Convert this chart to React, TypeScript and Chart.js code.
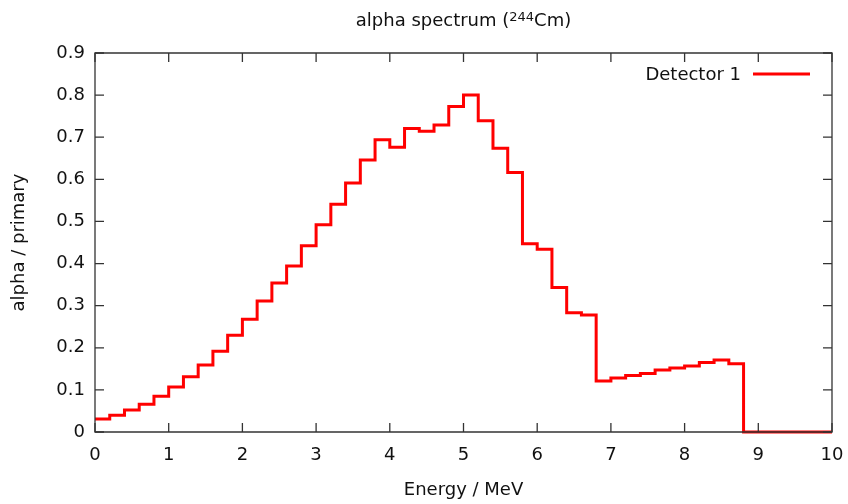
import { useEffect, useRef } from "react";
import { Chart, registerables } from "chart.js";

Chart.register(...registerables);

// Energy bin lower edges (MeV), plus final right edge at 10 MeV
const binEdges = [
  0, 0.2, 0.4, 0.6, 0.8, 1.0, 1.2, 1.4, 1.6, 1.8,
  2.0, 2.2, 2.4, 2.6, 2.8, 3.0, 3.2, 3.4, 3.6, 3.8,
  4.0, 4.2, 4.4, 4.6, 4.8, 5.0, 5.2, 5.4, 5.6, 5.8,
  6.0, 6.2, 6.4, 6.6, 6.8, 7.0, 7.2, 7.4, 7.6, 7.8,
  8.0, 8.2, 8.4, 8.6, 8.8, 9.0, 9.2, 9.4, 9.6, 9.8,
  10.0,
];

// alpha / primary for each bin (last value closes the histogram at 10 MeV)
const detector1 = [
  0.031, 0.040, 0.052, 0.066, 0.085, 0.107, 0.131, 0.159, 0.192, 0.230,
  0.268, 0.311, 0.354, 0.394, 0.442, 0.492, 0.541, 0.591, 0.646, 0.694,
  0.676, 0.721, 0.714, 0.729, 0.773, 0.800, 0.739, 0.674, 0.616, 0.447,
  0.434, 0.343, 0.283, 0.278, 0.121, 0.128, 0.134, 0.139, 0.147, 0.152,
  0.157, 0.165, 0.171, 0.162, 0, 0, 0, 0, 0, 0,
  0,
];

const xTickValues = [0, 1, 2, 3, 4, 5, 6, 7, 8, 9, 10];
const xTickLabels = ["0", "1", "2", "3", "4", "5", "6", "7", "8", "9", "10"];
const yTickValues = [0, 0.1, 0.2, 0.3, 0.4, 0.5, 0.6, 0.7, 0.8, 0.9];
const yTickLabels = ["0", "0.1", "0.2", "0.3", "0.4", "0.5", "0.6", "0.7", "0.8", "0.9"];

const seriesLabel = "Detector 1";
const titleParts = ["alpha spectrum (", "244", "Cm)"]; // middle part is superscript
const xTitle = "Energy / MeV";
const yTitle = "alpha / primary";

const FONT = "DejaVu Sans";
const FS = 18;
const SUP_FS = 13;
const TEXT_COLOR = "#111";
const FRAME_COLOR = "#333";
const LINE_COLOR = "#ff0000";

const framePlugin = {
  id: "gnuplotFrame",
  afterDatasetsDraw(chart: any) {
    const { ctx, chartArea } = chart;
    const { left, right, top, bottom } = chartArea;
    const xs = chart.scales.x;
    const ys = chart.scales.y;
    const tickLen = 9;
    ctx.save();
    ctx.strokeStyle = FRAME_COLOR;
    ctx.lineWidth = 1.3;
    ctx.beginPath();
    ctx.rect(left, top, right - left, bottom - top);
    ctx.stroke();
    ctx.beginPath();
    xTickValues.forEach((v) => {
      const px = xs.getPixelForValue(v);
      ctx.moveTo(px, bottom);
      ctx.lineTo(px, bottom - tickLen);
      ctx.moveTo(px, top);
      ctx.lineTo(px, top + tickLen);
    });
    yTickValues.forEach((v) => {
      const py = ys.getPixelForValue(v);
      ctx.moveTo(left, py);
      ctx.lineTo(left + tickLen, py);
      ctx.moveTo(right, py);
      ctx.lineTo(right - tickLen, py);
    });
    ctx.stroke();

    // gnuplot-style key: text then line sample, top right inside the plot
    const keyTextRight = right - 91;
    const keyY = top + 21;
    ctx.font = `${FS}px "${FONT}"`;
    ctx.fillStyle = TEXT_COLOR;
    ctx.textAlign = "right";
    ctx.textBaseline = "middle";
    ctx.fillText(seriesLabel, keyTextRight, keyY + 1);
    ctx.strokeStyle = LINE_COLOR;
    ctx.lineWidth = 3;
    ctx.beginPath();
    ctx.moveTo(keyTextRight + 12, keyY);
    ctx.lineTo(keyTextRight + 69, keyY);
    ctx.stroke();

    // title with superscript, centred over the plot area
    const mainFont = `${FS}px "${FONT}"`;
    const supFont = `${SUP_FS}px "${FONT}"`;
    ctx.textAlign = "left";
    ctx.textBaseline = "alphabetic";
    ctx.font = mainFont;
    const w0 = ctx.measureText(titleParts[0]).width;
    const w2 = ctx.measureText(titleParts[2]).width;
    ctx.font = supFont;
    const w1 = ctx.measureText(titleParts[1]).width;
    const total = w0 + w1 + w2;
    let tx = (left + right) / 2 - total / 2;
    const baseY = 26;
    ctx.fillStyle = TEXT_COLOR;
    ctx.font = mainFont;
    ctx.fillText(titleParts[0], tx, baseY);
    tx += w0;
    ctx.font = supFont;
    ctx.fillText(titleParts[1], tx, baseY - 5);
    tx += w1;
    ctx.font = mainFont;
    ctx.fillText(titleParts[2], tx, baseY);
    ctx.restore();
  },
};

export default function App() {
  const canvasRef = useRef<HTMLCanvasElement | null>(null);

  useEffect(() => {
    document.body.style.margin = "0";
    const canvas = canvasRef.current;
    if (!canvas) return;
    Chart.defaults.font.family = FONT;
    Chart.defaults.color = TEXT_COLOR;

    const points = binEdges.map((e, i) => ({ x: e, y: detector1[i] }));

    const chart = new Chart(canvas, {
      type: "line",
      data: {
        datasets: [
          {
            label: seriesLabel,
            data: points,
            borderColor: LINE_COLOR,
            backgroundColor: LINE_COLOR,
            borderWidth: 3,
            pointRadius: 0,
            stepped: true,
            fill: false,
            clip: false as any,
          },
        ],
      },
      options: {
        animation: false,
        responsive: false,
        devicePixelRatio: 1,
        layout: { padding: { left: 0, right: 16, top: 53, bottom: 0 } },
        plugins: {
          legend: { display: false },
          tooltip: { enabled: false },
          title: { display: false },
        },
        scales: {
          x: {
            type: "linear",
            min: 0,
            max: 10,
            afterBuildTicks: (scale: any) => {
              scale.ticks = xTickValues.map((v) => ({ value: v }));
            },
            afterFit: (scale: any) => {
              scale.height = 72;
              scale.paddingLeft = 0;
              scale.paddingRight = 0;
            },
            ticks: {
              padding: 13,
              color: TEXT_COLOR,
              font: { family: FONT, size: FS },
              maxRotation: 0,
              autoSkip: false,
              callback: (_v: any, i: number) => xTickLabels[i],
            },
            grid: { display: false, drawTicks: false },
            border: { display: false },
            title: {
              display: true,
              text: xTitle,
              color: TEXT_COLOR,
              font: { family: FONT, size: FS },
              padding: { top: 0, bottom: 3 },
            },
          },
          y: {
            type: "linear",
            min: 0,
            max: 0.9,
            afterBuildTicks: (scale: any) => {
              scale.ticks = yTickValues.map((v) => ({ value: v }));
            },
            afterFit: (scale: any) => {
              scale.width = 95;
              scale.paddingTop = 0;
              scale.paddingBottom = 0;
            },
            ticks: {
              padding: 10,
              color: TEXT_COLOR,
              font: { family: FONT, size: FS },
              autoSkip: false,
              callback: (_v: any, i: number) => yTickLabels[i],
            },
            grid: { display: false, drawTicks: false },
            border: { display: false },
            title: {
              display: true,
              text: yTitle,
              color: TEXT_COLOR,
              font: { family: FONT, size: FS },
              padding: { top: 9, bottom: 0 },
            },
          },
        },
      },
      plugins: [framePlugin],
    });

    return () => {
      chart.destroy();
    };
  }, []);

  return (
    <div style={{ width: 848, height: 504 }}>
      <canvas ref={canvasRef} width={848} height={504} style={{ display: "block", width: 848, height: 504 }} />
    </div>
  );
}
